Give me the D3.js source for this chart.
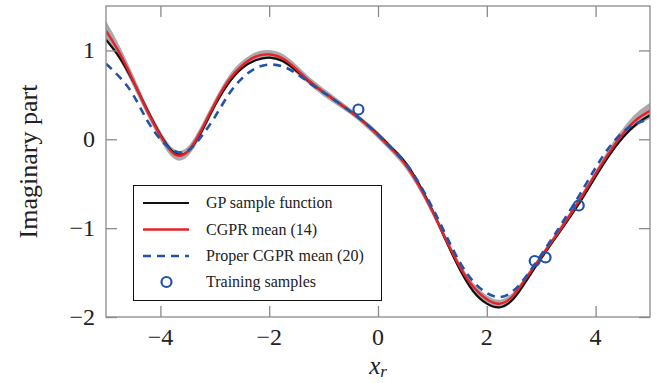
<!DOCTYPE html>
<html lang="en">
<head>
<meta charset="utf-8">
<title>GP sample vs CGPR mean</title>
<script src="https://cdn.jsdelivr.net/npm/d3@7"></script>
<style>
  body { margin: 0; background: #fff; }
  text { font-family: "Liberation Serif", "Times New Roman", serif; fill: #222; }
</style>
</head>
<body>
<svg width="669" height="383"></svg>
<script>
// x grid the curves were read on
var xGrid = [-5, -4.75, -4.5, -4.25, -4, -3.75, -3.5, -3.25, -3, -2.75, -2.5, -2.25, -2, -1.75, -1.5, -1.25, -1, -0.75, -0.5, -0.25,
             0, 0.25, 0.5, 0.75, 1, 1.25, 1.5, 1.75, 2, 2.25, 2.5, 2.75, 3, 3.25, 3.5, 3.75, 4, 4.25, 4.5, 4.75, 5];

var gpSample = [1.12, 0.92, 0.65, 0.34, 0.05, -0.15, -0.14, 0.08, 0.38, 0.63, 0.80, 0.89, 0.92, 0.88, 0.77, 0.64, 0.53, 0.42, 0.31, 0.19,
                0.055, -0.095, -0.26, -0.50, -0.80, -1.14, -1.46, -1.71, -1.85, -1.89, -1.79, -1.57, -1.34, -1.12, -0.90, -0.67, -0.42, -0.18, 0.02, 0.17, 0.27];

var cgprMean = [1.22, 0.97, 0.66, 0.33, 0.04, -0.165, -0.14, 0.10, 0.40, 0.66, 0.83, 0.93, 0.955, 0.91, 0.79, 0.65, 0.53, 0.42, 0.31, 0.185,
                0.045, -0.11, -0.28, -0.52, -0.81, -1.13, -1.43, -1.66, -1.80, -1.85, -1.75, -1.54, -1.32, -1.105, -0.88, -0.64, -0.39, -0.15, 0.06, 0.22, 0.32];

var properMean = [0.85, 0.70, 0.50, 0.22, 0.0, -0.13, -0.13, 0.03, 0.25, 0.50, 0.685, 0.80, 0.84, 0.82, 0.74, 0.63, 0.525, 0.42, 0.31, 0.19,
                  0.055, -0.10, -0.26, -0.49, -0.77, -1.08, -1.38, -1.60, -1.73, -1.775, -1.70, -1.52, -1.30, -1.07, -0.83, -0.58, -0.32, -0.09, 0.08, 0.18, 0.225];

// half width of the grey confidence band around the CGPR mean
var bandHalf = [0.11, 0.08, 0.065, 0.055, 0.055, 0.055, 0.055, 0.055, 0.05, 0.05, 0.05, 0.05, 0.05, 0.05, 0.05, 0.045, 0.045, 0.04, 0.035, 0.035,
                0.04, 0.04, 0.045, 0.045, 0.045, 0.045, 0.045, 0.045, 0.045, 0.045, 0.04, 0.035, 0.03, 0.035, 0.035, 0.035, 0.04, 0.05, 0.06, 0.075, 0.09];

var trainX = [-0.36, 2.88, 3.08, 3.69];
var trainY = [0.335, -1.37, -1.33, -0.745];

var xTicks = [-4, -2, 0, 2, 4];
var yTicks = [-2, -1, 0, 1];

var legendLabels = ["GP sample function", "CGPR mean (14)", "Proper CGPR mean (20)", "Training samples"];

var svg = d3.select("svg");
var pLeft = 106, pRight = 650, pTop = 6, pBottom = 317;

var x = d3.scaleLinear().domain([-5, 5]).range([pLeft, pRight]);
var y = d3.scaleLinear().domain([-2, 1.5]).range([pBottom, pTop]);

var rows = xGrid.map(function(v, i) {
    return { x: v, gp: gpSample[i], mean: cgprMean[i], proper: properMean[i], half: bandHalf[i] };
});

svg.append("clipPath").attr("id", "plot")
    .append("rect").attr("x", pLeft).attr("y", pTop).attr("width", pRight - pLeft).attr("height", pBottom - pTop);

var g = svg.append("g").attr("clip-path", "url(#plot)");

var curve = d3.curveNatural;

g.append("path").datum(rows)
    .attr("d", d3.area().curve(curve)
        .x(function(d) { return x(d.x); })
        .y0(function(d) { return y(d.mean - d.half); })
        .y1(function(d) { return y(d.mean + d.half); }))
    .attr("fill", "#aaaaaa");

function lineFor(key) {
    return d3.line().curve(curve)
        .x(function(d) { return x(d.x); })
        .y(function(d) { return y(d[key]); });
}

g.append("path").datum(rows).attr("d", lineFor("gp"))
    .attr("fill", "none").attr("stroke", "#111").attr("stroke-width", 2.2);

g.append("path").datum(rows).attr("d", lineFor("mean"))
    .attr("fill", "none").attr("stroke", "#e8202a").attr("stroke-width", 2.4);

g.append("path").datum(rows).attr("d", lineFor("proper"))
    .attr("fill", "none").attr("stroke", "#2352a6").attr("stroke-width", 2.6)
    .attr("stroke-dasharray", "8,6");

svg.selectAll(".train")
    .data(trainX)
    .enter().append("circle")
    .attr("class", "train")
    .attr("cx", function(d) { return x(d); })
    .attr("cy", function(d, i) { return y(trainY[i]); })
    .attr("r", 5)
    .attr("fill", "none")
    .attr("stroke", "#2352a6")
    .attr("stroke-width", 2.2);

// frame and inward ticks on all four sides
var axisColor = "#8a8a8a", tickLen = 11;

svg.append("rect")
    .attr("x", pLeft).attr("y", pTop).attr("width", pRight - pLeft).attr("height", pBottom - pTop)
    .attr("fill", "none").attr("stroke", axisColor).attr("stroke-width", 1.3);

function styleTicks(a) {
    a.select(".domain").remove();
    a.selectAll("line").attr("stroke", axisColor).attr("stroke-width", 1.3);
}

svg.append("g").attr("transform", "translate(0," + pBottom + ")")
    .call(d3.axisBottom(x).tickValues(xTicks).tickSizeInner(-tickLen).tickSizeOuter(0).tickFormat(""))
    .call(styleTicks);

svg.append("g").attr("transform", "translate(0," + pTop + ")")
    .call(d3.axisTop(x).tickValues(xTicks).tickSizeInner(-tickLen).tickSizeOuter(0).tickFormat(""))
    .call(styleTicks);

svg.append("g").attr("transform", "translate(" + pLeft + ",0)")
    .call(d3.axisLeft(y).tickValues(yTicks).tickSizeInner(-tickLen).tickSizeOuter(0).tickFormat(""))
    .call(styleTicks);

svg.append("g").attr("transform", "translate(" + pRight + ",0)")
    .call(d3.axisRight(y).tickValues(yTicks).tickSizeInner(-tickLen).tickSizeOuter(0).tickFormat(""))
    .call(styleTicks);

function fmt(v) { return v < 0 ? "\u2212" + Math.abs(v) : String(v); }

svg.selectAll(".xlab").data(xTicks).enter().append("text")
    .attr("x", function(d) { return x(d); })
    .attr("y", 345)
    .attr("text-anchor", "middle")
    .attr("font-size", "24px")
    .text(fmt);

svg.selectAll(".ylab").data(yTicks).enter().append("text")
    .attr("x", 95)
    .attr("y", function(d) { return y(d) + 8; })
    .attr("text-anchor", "end")
    .attr("font-size", "24px")
    .text(fmt);

svg.append("text")
    .attr("transform", "translate(37," + ((pTop + pBottom) / 2) + ") rotate(-90)")
    .attr("text-anchor", "middle")
    .attr("font-size", "26px")
    .text("Imaginary part");

var xl = svg.append("text")
    .attr("x", (pLeft + pRight) / 2)
    .attr("y", 374)
    .attr("text-anchor", "middle")
    .attr("font-size", "25px");
xl.append("tspan").attr("font-style", "italic").text("x");
xl.append("tspan").attr("font-style", "italic").attr("font-size", "17px").attr("dy", 3).text("r");

// legend
var lg = svg.append("g");
lg.append("rect")
    .attr("x", 133.5).attr("y", 185.5).attr("width", 248).attr("height", 115)
    .attr("fill", "#fff").attr("stroke", "#111").attr("stroke-width", 1);

var ly = [203, 229.5, 256, 282];
var lineStyles = [
    { stroke: "#111", width: 2.2, dash: null },
    { stroke: "#e8202a", width: 2.4, dash: null },
    { stroke: "#2352a6", width: 2.6, dash: "8,6" }
];

lineStyles.forEach(function(s, i) {
    lg.append("line")
        .attr("x1", 143).attr("x2", 189)
        .attr("y1", ly[i]).attr("y2", ly[i])
        .attr("stroke", s.stroke).attr("stroke-width", s.width)
        .attr("stroke-dasharray", s.dash);
});

lg.append("circle")
    .attr("cx", 166.5).attr("cy", ly[3]).attr("r", 5)
    .attr("fill", "none").attr("stroke", "#2352a6").attr("stroke-width", 2.2);

lg.selectAll(".ltext").data(legendLabels).enter().append("text")
    .attr("x", 206)
    .attr("y", function(d, i) { return ly[i] + 5; })
    .attr("font-size", "16px")
    .text(function(d) { return d; });
</script>
</body>
</html>
